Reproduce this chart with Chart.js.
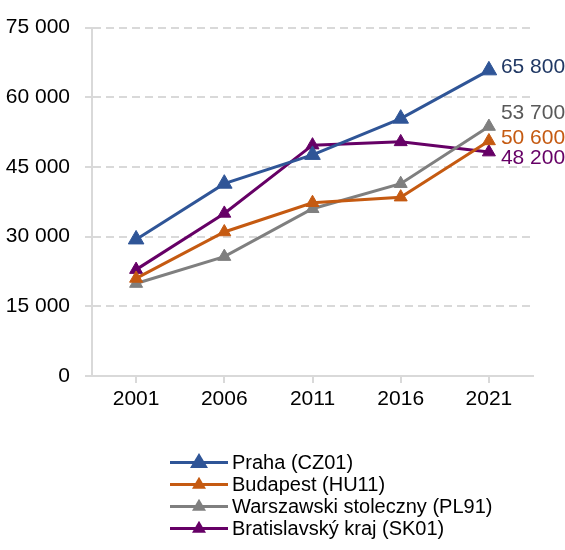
<!DOCTYPE html>
<html>
<head>
<meta charset="utf-8">
<title>Regions chart</title>
<script src="https://cdn.jsdelivr.net/npm/chart.js@4"></script>
<style>
    body { margin: 0; background: #fff; font-family: 'Liberation Sans Narrow', 'Arial Narrow', 'Liberation Sans', sans-serif; }
    #wrap { position: relative; width: 565px; height: 550px; }
    #legend { position: absolute; left: 170px; top: 451px; }
    .row { display: flex; align-items: center; height: 22px; font-size: 20px; color: #000; white-space: nowrap; }
    .swatch { position: relative; width: 58px; height: 3px; margin-right: 4px; }
    .tri { position: absolute; left: 50%; top: 50%; clip-path: polygon(50% 0, 100% 100%, 0 100%); }
</style>
</head>
<body>
<div id="wrap">
    <canvas id="chart" width="565" height="550"></canvas>
    <div id="legend"></div>
</div>
<script>
// data
const years = ['2001', '2006', '2011', '2016', '2021'];
const praha = [29400, 41400, 47600, 55400, 65800];
const budapest = [21000, 31000, 37300, 38500, 50600];
const warszawa = [19900, 25700, 36000, 41400, 53700];
const bratislava = [22900, 35000, 49700, 50400, 48200];
const seriesNames = ['Praha (CZ01)', 'Budapest (HU11)', 'Warszawski stoleczny (PL91)', 'Bratislavský kraj (SK01)'];
const yTicks = [0, 15000, 30000, 45000, 60000, 75000];

// styles
const lineColors = ['#2f5597', '#c55a11', '#7f7f7f', '#660066'];
const labelColors = ['#203864', '#c55a11', '#595959', '#660066'];
const markerSizes = [9, 7.5, 7.5, 7.5];
const labelNudge = [-3, -3, -13, 6];   // keeps the end labels apart
const FONT = "'Liberation Sans Narrow', 'Arial Narrow', 'Liberation Sans', sans-serif";

function fmt(n) {
    return String(n).replace(/\B(?=(\d{3})+(?!\d))/g, ' ');
}

const allSeries = [praha, budapest, warszawa, bratislava];

const datasets = allSeries.map((values, i) => ({
    label: seriesNames[i],
    data: values,
    borderColor: lineColors[i],
    backgroundColor: lineColors[i],
    borderWidth: 3,
    pointStyle: 'triangle',
    pointRadius: markerSizes[i],
    pointBorderWidth: 1,
    pointBackgroundColor: lineColors[i],
    pointBorderColor: lineColors[i],
    tension: 0,
    clip: false
}));

// value labels at the end of each line
const endLabels = {
    id: 'endLabels',
    afterDatasetsDraw(chart) {
        const ctx = chart.ctx;
        ctx.save();
        ctx.font = '21px ' + FONT;
        ctx.textBaseline = 'middle';
        ctx.textAlign = 'left';
        chart.data.datasets.forEach((ds, i) => {
            const meta = chart.getDatasetMeta(i);
            const last = meta.data[meta.data.length - 1];
            ctx.fillStyle = labelColors[i];
            ctx.fillText(fmt(ds.data[ds.data.length - 1]), last.x + 12, last.y + labelNudge[i]);
        });
        ctx.restore();
    }
};

Chart.defaults.font.family = FONT;
Chart.defaults.color = '#000';

new Chart(document.getElementById('chart'), {
    type: 'line',
    data: { labels: years, datasets: datasets },
    options: {
        responsive: false,
        animation: false,
        layout: { padding: { top: 22, right: 32, left: 0, bottom: 0 } },
        plugins: {
            legend: { display: false },
            tooltip: { enabled: false }
        },
        scales: {
            x: {
                offset: true,
                afterFit(scale) { scale.height = 174; },
                grid: { drawOnChartArea: false, drawTicks: true, tickLength: 7, color: '#d9d9d9', lineWidth: 2 },
                border: { display: true, color: '#d9d9d9', width: 2 },
                ticks: { font: { size: 21 }, color: '#000', padding: 4, maxRotation: 0 }
            },
            y: {
                min: 0,
                max: 75000,
                afterFit(scale) { scale.width = 92; },
                afterBuildTicks(scale) { scale.ticks = yTicks.map(v => ({ value: v })); },
                grid: { color: '#d9d9d9', lineWidth: 2, tickLength: 7, tickBorderDash: [8, 5] },
                border: { display: true, color: '#d9d9d9', width: 2, dash: [8, 5] },
                ticks: { font: { size: 21 }, color: '#000', padding: 15, callback: v => fmt(v) }
            }
        }
    },
    plugins: [endLabels]
});

// legend as a single column under the plot
const legend = document.getElementById('legend');
seriesNames.forEach((name, i) => {
    const row = document.createElement('div');
    row.className = 'row';
    const sw = document.createElement('span');
    sw.className = 'swatch';
    sw.style.background = lineColors[i];
    const tri = document.createElement('span');
    tri.className = 'tri';
    const w = i === 0 ? 18 : 14;
    const h = i === 0 ? 15 : 12;
    tri.style.width = w + 'px';
    tri.style.height = h + 'px';
    tri.style.marginLeft = (-w / 2) + 'px';
    tri.style.marginTop = (-h * 0.6) + 'px';
    tri.style.background = lineColors[i];
    sw.appendChild(tri);
    const txt = document.createElement('span');
    txt.textContent = name;
    row.appendChild(sw);
    row.appendChild(txt);
    legend.appendChild(row);
});
</script>
</body>
</html>
